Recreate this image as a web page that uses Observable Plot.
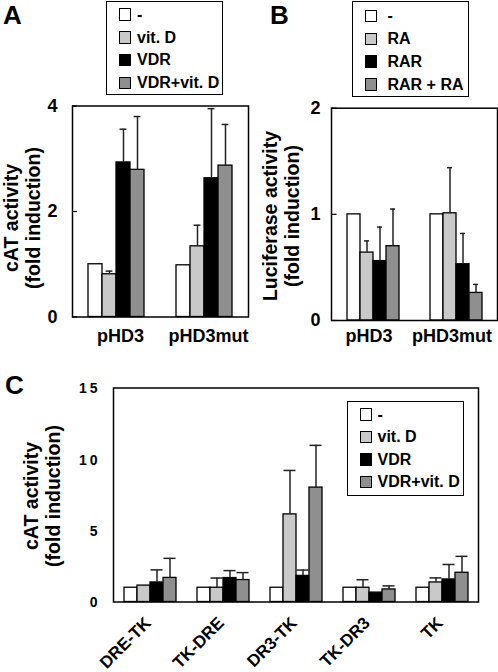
<!DOCTYPE html>
<html><head><meta charset="utf-8">
<script src="https://cdn.jsdelivr.net/npm/d3@7"></script>
<script src="https://cdn.jsdelivr.net/npm/@observablehq/plot@0.6"></script>
<style>
body{margin:0;background:#fff;}
#root{position:relative;width:498px;height:672px;overflow:hidden;font-family:"Liberation Sans",Arial,sans-serif;font-weight:bold;color:#000;}
.chart{position:absolute;}
.chart svg{background:transparent;overflow:visible;}
.letter{position:absolute;font-size:26px;line-height:1;font-weight:bold;}
.legend{position:absolute;border:1.5px solid #000;box-sizing:border-box;background:#fff;z-index:2;}
.row{position:absolute;font-size:16px;line-height:1;white-space:nowrap;}
.sw{position:absolute;width:12.5px;height:12.5px;border:1px solid #000;box-sizing:border-box;}
.ytitle{position:absolute;font-size:19.5px;line-height:1.12;font-weight:bold;white-space:pre;text-align:center;transform:translate(-50%,-50%) rotate(-90deg);}
.pc [aria-label="y-axis tick label"] text{letter-spacing:3px;}
</style></head><body><div id="root"></div>
<script>
const FONT = '"Liberation Sans", Arial, sans-serif';
const COLORS = ["#ffffff", "#c9c9c9", "#000000", "#8f8f8f"];

// Panel A
const groupsA = ["pHD3", "pHD3mut"];
const seriesA = ["-", "vit. D", "VDR", "VDR+vit. D"];
const meanA_pHD3 = [1.0, 0.81, 2.93, 2.79];
const errA_pHD3 = [0, 0.06, 0.63, 1.01];
const meanA_pHD3mut = [0.98, 1.34, 2.63, 2.87];
const errA_pHD3mut = [0, 0.40, 1.32, 0.78];
const ticksA = [0, 2, 4];
const titleA = "cAT activity\n(fold induction)";

// Panel B
const groupsB = ["pHD3", "pHD3mut"];
const seriesB = ["-", "RA", "RAR", "RAR + RA"];
const meanB_pHD3 = [1.0, 0.64, 0.56, 0.70];
const errB_pHD3 = [0, 0.11, 0.32, 0.35];
const meanB_pHD3mut = [1.0, 1.01, 0.53, 0.26];
const errB_pHD3mut = [0, 0.43, 0.29, 0.08];
const ticksB = [0, 1, 2];
const titleB = "Luciferase activity\n(fold induction)";

// Panel C
const groupsC = ["DRE-TK", "TK-DRE", "DR3-TK", "TK-DR3", "TK"];
const seriesC = ["-", "vit. D", "VDR", "VDR+vit. D"];
const meanC_DRETK = [1.0, 1.15, 1.37, 1.69];
const errC_DRETK = [0, 0, 0.88, 1.37];
const meanC_TKDRE = [1.0, 1.0, 1.68, 1.54];
const errC_TKDRE = [0, 0.68, 0.52, 0.52];
const meanC_DR3TK = [1.0, 6.14, 1.83, 8.02];
const errC_DR3TK = [0, 3.08, 0.41, 2.96];
const meanC_TKDR3 = [1.0, 1.0, 0.66, 0.88];
const errC_TKDR3 = [0, 0.56, 0, 0.25];
const meanC_TK = [1.0, 1.37, 1.58, 2.05];
const errC_TK = [0, 0.32, 1.05, 1.15];
const ticksC = [0, 5, 10, 15];
const titleC = "cAT activity\n(fold induction)";

function makeData(groups, series, means, errs) {
  const rows = [];
  groups.forEach((g, gi) => series.forEach((s, si) =>
    rows.push({group: g, series: s, value: means[gi][si], err: errs[gi][si]})));
  return rows;
}

function panel(o) {
  const withErr = o.data.filter(d => d.err > 0);
  const facetW = (o.width - o.ml - o.mr) / o.groups.length;
  const marks = [
    Plot.barY(o.data, {fx: "group", x: "series", y: "value", fill: "series", stroke: "#000", strokeWidth: 1.3}),
    Plot.ruleX(withErr, {fx: "group", x: "series", y1: "value", y2: d => d.value + d.err, stroke: "#222", strokeWidth: 1.5}),
    Plot.tickY(withErr, {fx: "group", x: "series", y: d => d.value + d.err, stroke: "#222", strokeWidth: 1.5, insetLeft: o.capInset, insetRight: o.capInset}),
    Plot.frame({facet: "super", strokeWidth: 1.5}),
    Plot.axisY({ticks: o.yTicks, tickFormat: d => String(d), tickSize: 0, tickPadding: o.yPad, label: null, fontSize: o.yFont, fontWeight: "bold", dy: o.yDy || 0}),
    o.xAxis
  ];
  if (o.innerTicks) marks.push(Plot.tickY(o.yTicks, {y: d => d, facetAnchor: "left", insetRight: facetW - 5.5, stroke: "#000", strokeWidth: 1.2}));
  return Plot.plot({
    width: o.width, height: o.height,
    marginLeft: o.ml, marginRight: o.mr, marginTop: o.mt, marginBottom: o.mb,
    className: o.className,
    style: {fontFamily: FONT, fontWeight: "bold", color: "#000", background: "transparent", overflow: "visible"},
    fx: {domain: o.groups, padding: 0, label: null},
    x: {domain: o.series, paddingInner: 0, paddingOuter: o.padOuter, axis: null},
    y: {domain: o.yDomain},
    color: {domain: o.series, range: COLORS},
    marks
  });
}

const root = document.getElementById("root");
function place(node, left, top) {
  const div = document.createElement("div");
  div.className = "chart";
  div.style.left = left + "px";
  div.style.top = top + "px";
  div.appendChild(node);
  root.appendChild(div);
}
function letter(t, left, top) {
  const d = document.createElement("div");
  d.className = "letter"; d.textContent = t;
  d.style.left = left + "px"; d.style.top = top + "px";
  root.appendChild(d);
}
function ytitle(t, cx, cy) {
  const d = document.createElement("div");
  d.className = "ytitle"; d.textContent = t;
  d.style.left = cx + "px"; d.style.top = cy + "px";
  root.appendChild(d);
}
function legend(names, left, top, w, h, swLeft, textLeft, rowTop, rowStep) {
  const box = document.createElement("div");
  box.className = "legend";
  Object.assign(box.style, {left: left + "px", top: top + "px", width: w + "px", height: h + "px"});
  names.forEach((n, i) => {
    const cy = rowTop + i * rowStep;
    const sw = document.createElement("div");
    sw.className = "sw";
    Object.assign(sw.style, {left: swLeft + "px", top: (cy - 6.25) + "px", background: COLORS[i]});
    const tx = document.createElement("div");
    tx.className = "row"; tx.textContent = n;
    Object.assign(tx.style, {left: textLeft + "px", top: (cy - 7.8) + "px"});
    box.appendChild(sw); box.appendChild(tx);
  });
  root.appendChild(box);
}

const dataA = makeData(groupsA, seriesA, [meanA_pHD3, meanA_pHD3mut], [errA_pHD3, errA_pHD3mut]);
place(panel({
  data: dataA, groups: groupsA, series: seriesA, yDomain: [0, 4], yTicks: ticksA,
  width: 252, height: 260, ml: 71, mr: 3.7, mt: 15.5, mb: 33.5,
  padOuter: 1.12, capInset: 3.6, yPad: 15, yFont: 18, yDy: 0, innerTicks: true,
  xAxis: Plot.axisFx({anchor: "bottom", tickSize: 0, tickPadding: 12, fontSize: 18, fontWeight: "bold", dx: 4, label: null})
}), 0, 90);

const dataB = makeData(groupsB, seriesB, [meanB_pHD3, meanB_pHD3mut], [errB_pHD3, errB_pHD3mut]);
place(panel({
  data: dataB, groups: groupsB, series: seriesB, yDomain: [0, 2], yTicks: ticksB,
  width: 248, height: 260, ml: 81, mr: 1, mt: 17.7, mb: 30,
  padOuter: 1.08, capInset: 4, yPad: 11, yFont: 18, yDy: 0, innerTicks: true,
  xAxis: Plot.axisFx({anchor: "bottom", tickSize: 0, tickPadding: 9, fontSize: 18, fontWeight: "bold", dx: -4, label: null})
}), 250, 90);

const dataC = makeData(groupsC, seriesC,
  [meanC_DRETK, meanC_TKDRE, meanC_DR3TK, meanC_TKDR3, meanC_TK],
  [errC_DRETK, errC_TKDRE, errC_DR3TK, errC_TKDR3, errC_TK]);
place(panel({
  data: dataC, groups: groupsC, series: seriesC, yDomain: [0, 15], yTicks: ticksC,
  width: 498, height: 302, ml: 111, mr: 18, mt: 17.5, mb: 70.5, className: "pc",
  padOuter: 0.75, capInset: 0.5, yPad: 13, yFont: 14, yDy: 1, innerTicks: false,
  xAxis: Plot.axisFx({anchor: "bottom", tickSize: 0, tickPadding: 13.5, tickRotate: -45, textAnchor: "end", lineAnchor: "top", fontSize: 17, fontWeight: "bold", dx: -6.5, label: null})
}), 0, 370);

ytitle(titleA, 22.5, 218);
ytitle(titleB, 282, 216);
ytitle(titleC, 43, 496);

letter("A", 3, 1.5);
letter("B", 270, 1.5);
letter("C", 5, 371.5);

legend(seriesA, 106, 1, 117, 94, 11.5, 30, 12.5, 22.8);
legend(seriesB, 352, 1, 117, 96, 11.5, 34.5, 14, 22.8);
legend(seriesC, 347, 401, 117, 95, 11.5, 29.5, 12.5, 22.5);
</script></body></html>
